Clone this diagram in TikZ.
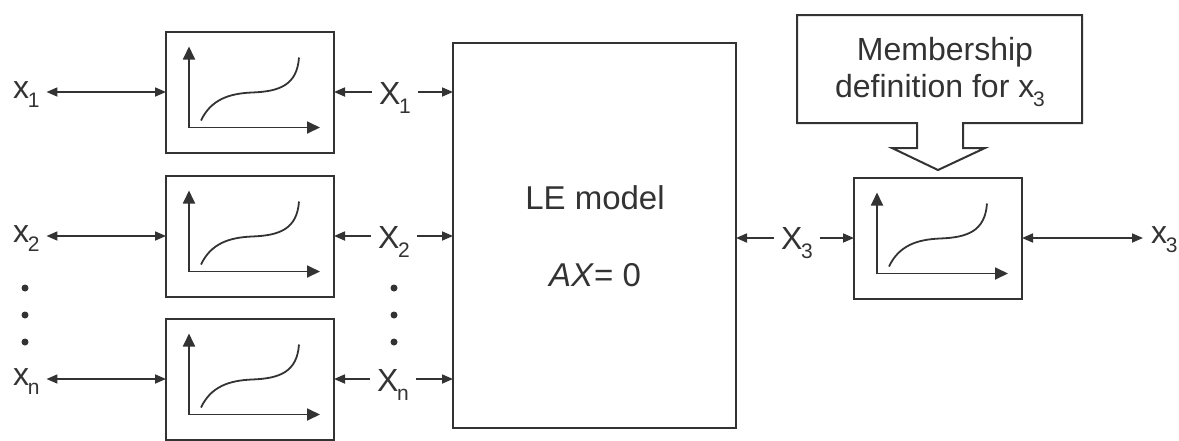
\documentclass[tikz,border=0pt]{standalone}
\usepackage{fontspec}
\setmainfont{Liberation Sans}
\usetikzlibrary{arrows.meta}
\definecolor{ink}{HTML}{333333}
\newcommand\subs[1]{\kern-0.6pt\raisebox{-4.5pt}{\fontsize{10.5}{10.5}\selectfont #1}}
\newcommand\plotin[1]{%
  \begin{scope}[shift={(#1.south west)}, yscale=-1]
    \draw[axisline] (23,106) -- (23,25) -- (154,25);
    \draw[curveline] (35,32) .. controls (45,53) and (63,59) .. (86,60)
                             .. controls (113,61) and (131,67) .. (133,95);
  \end{scope}}
\begin{document}
\begin{tikzpicture}[x=0.5pt,y=-0.5pt,
  fbox/.style={draw=ink, line width=1pt, minimum width=84pt, minimum height=60.5pt, inner sep=0pt, outer sep=0pt},
  lbl/.style={text=ink, font=\fontsize{16}{16}\selectfont, inner sep=0pt, outer xsep=3.5pt, outer ysep=0pt},
  conn/.style={draw=ink, line width=0.85pt, -{Triangle[length=5.5pt,width=4.5pt]}},
  dbl/.style={draw=ink, line width=0.85pt, {Triangle[length=5.5pt,width=4.5pt]}-{Triangle[length=5.5pt,width=4.5pt]}},
  axisline/.style={draw=ink, line width=0.9pt, {Triangle[length=6.5pt,width=6pt]}-{Triangle[length=6.5pt,width=6pt]}},
  curveline/.style={draw=ink, line width=0.9pt},
  dot/.style={circle, fill=ink, minimum size=3.5pt, inner sep=0pt}]
\useasboundingbox (0,0) rectangle (1179,440);

% boxes
\node[fbox] (b1) at (250,92) {};
\node[fbox] (b2) at (250,236) {};
\node[fbox] (b3) at (250,379) {};
\node[fbox] (bR) at (938,238) {};
\node[fbox, minimum width=141.5pt, minimum height=192.5pt] (le) at (594.5,235.5) {};
\plotin{b1}
\plotin{b2}
\plotin{b3}
\plotin{bR}

% LE model text
\node[lbl, font=\fontsize{16.5}{16.5}\selectfont] (lem) at (595,198) {LE model};
\node[lbl, font=\fontsize{16.5}{16.5}\selectfont] (axe) at (595,275) {\textit{AX}= 0};

% left labels
\node[lbl, anchor=mid west] (xl1) at (6,93) {x\subs{1}};
\node[lbl, anchor=mid west] (xl2) at (6,237) {x\subs{2}};
\node[lbl, anchor=mid west] (xln) at (6,380) {x\subs{n}};

% middle labels
\node[lbl, anchor=base] (X1) at (395,104.5) {X\subs{1}};
\node[lbl, anchor=base] (X2) at (394,248.5) {X\subs{2}};
\node[lbl, anchor=base] (Xn) at (393,391.5) {X\subs{n}};

% right labels
\node[lbl, anchor=base] (X3) at (797,249.5) {X\subs{3}};
\node[lbl, anchor=mid west] (xr3) at (1144,238) {x\subs{3}};

% dots
\node[dot] (d1) at (25,288) {};
\node[dot] (d2) at (25,315) {};
\node[dot] (d3) at (25,342) {};
\node[dot] (d4) at (394,288) {};
\node[dot] (d5) at (394,315) {};
\node[dot] (d6) at (394,342) {};

% connectors left
\draw[dbl] (xl1.east |- b1.west) -- (b1.west);
\draw[dbl] (xl2.east |- b2.west) -- (b2.west);
\draw[dbl] (xln.east |- b3.west) -- (b3.west);

\draw[conn] (X1.west |- b1.east) -- (b1.east);
\draw[conn] (X1.east |- b1.east) -- (le.west |- b1.east);
\draw[conn] (X2.west |- b2.east) -- (b2.east);
\draw[conn] (X2.east |- b2.east) -- (le.west |- b2.east);
\draw[conn] (Xn.west |- b3.east) -- (b3.east);
\draw[conn] (Xn.east |- b3.east) -- (le.west |- b3.east);

% connectors right
\draw[conn] (X3.west |- bR.west) -- (le.east |- bR.west);
\draw[conn] (X3.east |- bR.west) -- (bR.west);
\draw[dbl, shorten >=0.5pt] (bR.east) -- (xr3.west |- bR.east);

% callout
\draw[ink, line width=1pt, line join=miter]
  (917,123) -- (797,123) -- (797,15) -- (1082,15) -- (1082,123) -- (963,123)
  -- (963,148) -- (985,148) -- (938,170) -- (892,148) -- (917,148) -- cycle;
\node[lbl, anchor=base] (mem1) at (945,60) {Membership};
\node[lbl, anchor=base] (mem2) at (940,97) {definition for x\subs{3}};
\end{tikzpicture}
\end{document}
